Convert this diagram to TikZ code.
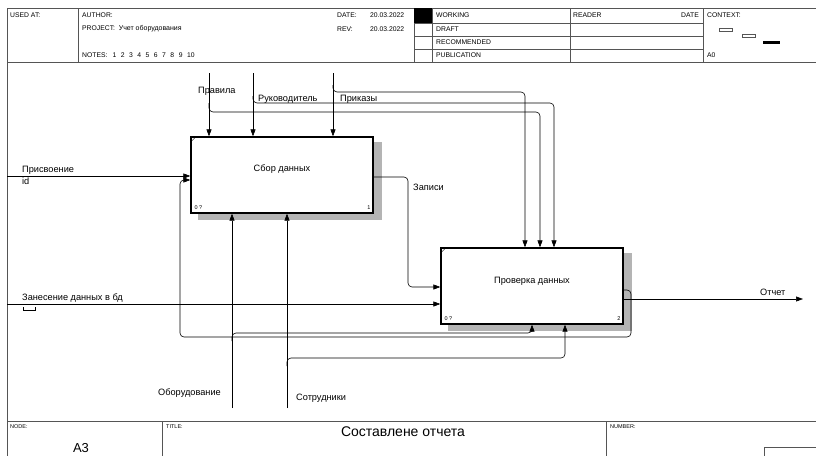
\documentclass[tikz,border=0pt]{standalone}
\usepackage{fontspec}
\setmainfont{Liberation Sans}
\usetikzlibrary{arrows.meta,calc,backgrounds}
\definecolor{shadegray}{HTML}{B4B4B4}
\definecolor{framegray}{HTML}{555555}

\begin{document}
\begin{tikzpicture}[x=1pt,y=-1pt,
    every node/.style={font=\fontsize{9.2}{11}\selectfont, inner sep=0pt},
    hdr/.style={font=\fontsize{6.8}{8}\selectfont, anchor=west},
    tiny/.style={font=\fontsize{5.5}{6}\selectfont, anchor=west},
    frame/.style={framegray, line width=0.8pt},
    box/.style={draw, line width=1.3pt, fill=white, minimum width=182pt, minimum height=76pt},
    arr/.style={-{Triangle[length=7pt,width=5pt]}, line width=0.6pt},
    link/.style={rounded corners=4pt}]
  \useasboundingbox (0,0) rectangle (816,455);
  \clip (0,0) rectangle (816,455);

  % frame and header
  \draw[frame] (7,470) -- (7,8) -- (830,8);
  \draw[frame] (7,62) -- (816,62);
  \draw[frame] (7,421) -- (816,421);
  \foreach \x in {78,414,432,570,703}
    \draw[frame] (\x,8) -- (\x,62);
  \foreach \y in {23,36,49}
    \draw[frame] (414,\y) -- (703,\y);
  \fill (414,8) rectangle (432,23);
  \foreach \x in {162,606}
    \draw[frame] (\x,421) -- (\x,460);
  \draw[frame] (719,28) rectangle (732,31);
  \draw[frame] (742,34) rectangle (755,37);
  \fill (763,41) rectangle (780,44);
  \draw[frame] (764,447) rectangle (830,470);

  \node[hdr] at (10,15) {USED AT:};
  \node[hdr] at (82,15) {AUTHOR:};
  \node[hdr] at (82,29) {PROJECT:\ \ {\fontsize{7}{8}\selectfont Учет оборудования}};
  \node[hdr] at (82,55) {NOTES:\hskip5pt 1\hskip4.5pt 2\hskip4.5pt 3\hskip4.5pt 4\hskip4.5pt 5\hskip4.5pt 6\hskip4.5pt 7\hskip4.5pt 8\hskip4.5pt 9\hskip4.5pt 10};
  \node[hdr] at (337,15) {DATE:};
  \node[hdr] at (370,15) {20.03.2022};
  \node[hdr] at (337,29) {REV:};
  \node[hdr] at (370,29) {20.03.2022};
  \node[hdr] at (436,15) {WORKING};
  \node[hdr] at (436,29) {DRAFT};
  \node[hdr] at (436,42) {RECOMMENDED};
  \node[hdr] at (436,55) {PUBLICATION};
  \node[hdr] at (573,15) {READER};
  \node[hdr,anchor=east] at (699,15) {DATE};
  \node[hdr] at (707,15) {CONTEXT:};
  \node[hdr] at (707,55) {A0};

  \node[tiny] at (10,427) {NODE:};
  \node[tiny] at (166,427) {TITLE:};
  \node[tiny] at (610,427) {NUMBER:};
  \node[font=\fontsize{14}{16}\selectfont] at (403,432) {Составлене отчета};
  \node[font=\fontsize{13}{15}\selectfont] at (81,448) {A3};

  % activity boxes
  \node[box] (sbor) at (282,175) {};
  \node at ([yshift=6pt]sbor.center) {Сбор данных};
  \node[box] (prov) at (532,286) {};
  \node at ([yshift=5pt]prov.center) {Проверка данных};
  \begin{scope}[on background layer]
    \fill[shadegray] ([shift={(8pt,-6pt)}]sbor.south west) rectangle ([shift={(8pt,-6pt)}]sbor.north east);
    \fill[shadegray] ([shift={(8pt,-6pt)}]prov.south west) rectangle ([shift={(8pt,-6pt)}]prov.north east);
  \end{scope}
  \draw ([yshift=-6pt]sbor.north west) -- ([xshift=6pt]sbor.north west);
  \draw ([yshift=-6pt]prov.north west) -- ([xshift=6pt]prov.north west);
  \node[tiny] at ([shift={(4pt,6pt)}]sbor.south west) {0 ?};
  \node[tiny,anchor=east] at ([shift={(-3pt,6pt)}]sbor.south east) {1};
  \node[tiny] at ([shift={(4pt,6pt)}]prov.south west) {0 ?};
  \node[tiny,anchor=east] at ([shift={(-3pt,6pt)}]prov.south east) {2};

  % controls
  \coordinate (pravila) at (209,73);
  \coordinate (rukov) at (253,73);
  \coordinate (prikazy) at (333,73);
  \foreach \nm in {pravila,rukov,prikazy}
    \draw[arr] (\nm) -- (\nm |- sbor.north);
  \draw[arr,link] ($(pravila)+(0,30)$) |- (540,112) -- ([xshift=8pt]prov.north);
  \draw[arr,link] ($(rukov)+(0,23)$) |- (554,103) -- ([xshift=22pt]prov.north);
  \draw[arr,link] ($(prikazy)+(0,12)$) |- (525,92) -- ([xshift=-7pt]prov.north);
  \node[anchor=west] at (198,91) {Правила};
  \node[anchor=west] at (258,99) {Руководитель};
  \node[anchor=west] at (340,99) {Приказы};

  % inputs
  \coordinate (prisv) at (7,176);
  \coordinate (zanes) at (7,304);
  \draw[arr] (prisv) -- (prisv -| sbor.west);
  \draw[arr] (zanes) -- (zanes -| prov.west);
  \node[anchor=west] at (22,170) {Присвоение};
  \node[anchor=west] at (22,181) {id};
  \node[anchor=west] at (22,298) {Занесение данных в бд};
  \draw (23,307) -- (23,310) -- (35,310) -- (35,307);

  % records and feedback
  \draw[arr,link] ([yshift=-2pt]sbor.east) -| (408,287) -- ([yshift=-1pt]prov.west);
  \node[anchor=west] at (413,187) {Записи};
  \draw[arr,link] ([yshift=-4pt]prov.east) -| (631,337) -| (180,180) -- ([yshift=-5pt]sbor.west);

  % mechanisms
  \coordinate (oborud) at (232,408);
  \coordinate (sotr) at (287,408);
  \draw[arr] (oborud) -- (oborud |- sbor.south);
  \draw[arr] (sotr) -- (sotr |- sbor.south);
  \draw[arr,link] (232,341) |- (532,333) -- (prov.south);
  \draw[arr,link] (287,366) |- (565,358) -- ([xshift=33pt]prov.south);
  \node[anchor=west] at (158,393) {Оборудование};
  \node[anchor=west] at (296,398) {Сотрудники};

  % output
  \coordinate (otchet) at (803,299);
  \draw[arr] (otchet -| prov.east) -- (otchet);
  \node[anchor=west] at (760,292) {Отчет};
\end{tikzpicture}
\end{document}
